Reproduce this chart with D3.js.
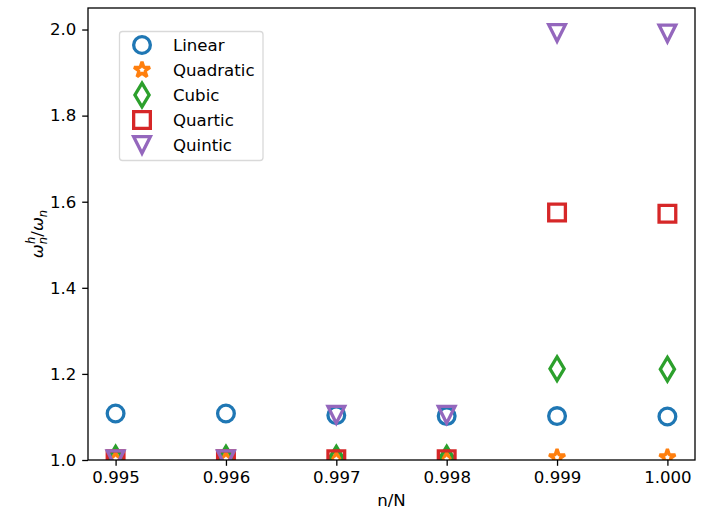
<!DOCTYPE html>
<html>
<head>
<meta charset="utf-8">
<script src="https://cdn.jsdelivr.net/npm/d3@7"></script>
<style>
  html, body { margin: 0; padding: 0; background: #fff; }
  svg { display: block; font-family: "DejaVu Sans", sans-serif; }
</style>
</head>
<body>
<svg id="chart" width="703" height="515"></svg>
<script>
// Sample positions along the spectrum
const nOverN = [0.995, 0.996, 0.997, 0.998, 0.999, 1.000];

// Discrete-to-exact frequency ratio per element order
const linear    = [1.108, 1.108, 1.104, 1.102, 1.102, 1.101];
const quadratic = [1.002, 1.002, 1.002, 1.002, 1.006, 1.006];
const cubic     = [1.004, 1.004, 1.004, 1.004, 1.212, 1.211];
const quartic   = [1.002, 1.002, 1.002, 1.002, 1.575, 1.572];
const quintic   = [1.002, 1.002, 1.105, 1.105, 1.992, 1.991];

const seriesNames = ["Linear", "Quadratic", "Cubic", "Quartic", "Quintic"];
const xTicks = [0.995, 0.996, 0.997, 0.998, 0.999, 1.000];
const yTicks = [1.0, 1.2, 1.4, 1.6, 1.8, 2.0];

const series = [
  { name: seriesNames[0], values: linear,    color: "#1f77b4", shape: "circle",       join: "round" },
  { name: seriesNames[1], values: quadratic, color: "#ff7f0e", shape: "star",         join: "bevel" },
  { name: seriesNames[2], values: cubic,     color: "#2ca02c", shape: "thinDiamond",  join: "miter" },
  { name: seriesNames[3], values: quartic,   color: "#d62728", shape: "square",       join: "miter" },
  { name: seriesNames[4], values: quintic,   color: "#9467bd", shape: "triangleDown", join: "miter" }
];

const svg = d3.select("#chart");
const W = 703, H = 515;
const x0 = 88, x1 = 695;
const y0 = 460, y1 = 8;

const x = d3.scaleLinear().domain([0.99475, 1.00025]).range([x0, x1]);
const y = d3.scaleLinear().domain([1.0, 2.05]).range([y0, y1]);

const ms = 16.7;      // marker size in px
const mew = 3.3;      // marker edge width
const fs = 16.6;      // base font size

// Marker path builders, centred at origin
function markerPath(shape) {
  const h = ms / 2;
  if (shape === "circle") {
    return `M${h},0A${h},${h} 0 1,1 ${-h},0A${h},${h} 0 1,1 ${h},0Z`;
  }
  if (shape === "square") {
    return `M${-h},${-h}L${h},${-h}L${h},${h}L${-h},${h}Z`;
  }
  if (shape === "thinDiamond") {
    const v = ms / Math.SQRT2;
    const hw = v * 0.6;
    return `M0,${-v}L${hw},0L0,${v}L${-hw},0Z`;
  }
  if (shape === "triangleDown") {
    return `M0,${h}L${-h},${-h}L${h},${-h}Z`;
  }
  if (shape === "star") {
    const R = h, r = h * 0.381966;
    const pts = [];
    for (let i = 0; i < 10; i++) {
      const a = -Math.PI / 2 + i * Math.PI / 5;
      const rad = i % 2 === 0 ? R : r;
      pts.push([rad * Math.cos(a), rad * Math.sin(a)]);
    }
    return "M" + pts.map(p => p.join(",")).join("L") + "Z";
  }
}

// Clip region for the plotting area
svg.append("defs").append("clipPath").attr("id", "plotClip")
  .append("rect").attr("x", x0).attr("y", y1).attr("width", x1 - x0).attr("height", y0 - y1);

// Axes
const xAxis = svg.append("g").attr("transform", `translate(0,${y0})`)
  .call(d3.axisBottom(x).tickValues(xTicks).tickFormat(d3.format(".3f")).tickSize(5.8).tickPadding(5.8));
const yAxis = svg.append("g").attr("transform", `translate(${x0},0)`)
  .call(d3.axisLeft(y).tickValues(yTicks).tickFormat(d3.format(".1f")).tickSize(5.8).tickPadding(5.8));
[xAxis, yAxis].forEach(g => {
  g.select(".domain").remove();
  g.selectAll(".tick line").attr("stroke", "#000").attr("stroke-width", 1.3);
  g.selectAll(".tick text").attr("fill", "#000").style("font-size", fs + "px")
    .style("font-family", "DejaVu Sans, sans-serif");
});

// Data markers
const plot = svg.append("g").attr("clip-path", "url(#plotClip)");
series.forEach(s => {
  plot.append("g").selectAll("path")
    .data(nOverN.map((n, i) => ({ n, v: s.values[i] })))
    .join("path")
    .attr("d", markerPath(s.shape))
    .attr("transform", d => `translate(${x(d.n)},${y(d.v)})`)
    .attr("fill", "none")
    .attr("stroke", s.color)
    .attr("stroke-width", mew)
    .attr("stroke-linejoin", s.join);
});

// Frame
svg.append("rect").attr("x", x0).attr("y", y1).attr("width", x1 - x0).attr("height", y0 - y1)
  .attr("fill", "none").attr("stroke", "#000").attr("stroke-width", 1.3);

// Axis labels
svg.append("text").attr("x", (x0 + x1) / 2).attr("y", 506)
  .attr("text-anchor", "middle").style("font-size", fs + "px").text("n/N");

const yl = svg.append("text").attr("transform", `translate(43,${(y0 + y1) / 2}) rotate(-90)`)
  .attr("text-anchor", "middle").style("font-size", fs + "px").style("font-style", "italic")
  .style("font-family", "DejaVu Sans, sans-serif");
yl.append("tspan").text("ω");
yl.append("tspan").attr("dy", 4).style("font-size", "11.5px").text("n");
yl.append("tspan").attr("dy", -12).attr("dx", -7).style("font-size", "11.5px").text("h");
yl.append("tspan").attr("dy", 8).style("font-style", "normal").text("/");
yl.append("tspan").text("ω");
yl.append("tspan").attr("dy", 4).style("font-size", "11.5px").text("n");

// Legend
const lg = svg.append("g");
lg.append("rect").attr("x", 119.5).attr("y", 31.5).attr("width", 143.5).attr("height", 129)
  .attr("rx", 3).attr("fill", "#fff").attr("fill-opacity", 0.8)
  .attr("stroke", "#d9d9d9").attr("stroke-width", 1.3);
series.forEach((s, i) => {
  const cy = 45 + i * 25;
  lg.append("path").attr("d", markerPath(s.shape))
    .attr("transform", `translate(142,${cy})`)
    .attr("fill", "none").attr("stroke", s.color).attr("stroke-width", mew)
    .attr("stroke-linejoin", s.join);
  lg.append("text").attr("x", 173).attr("y", cy + 6).style("font-size", fs + "px").text(s.name);
});
</script>
</body>
</html>
